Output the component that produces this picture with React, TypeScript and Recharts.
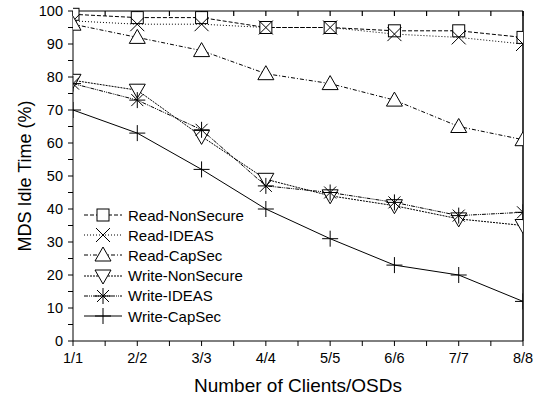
import React from "react";
import { LineChart, Line, XAxis, YAxis, Legend } from "recharts";

// values
const categories = ["1/1", "2/2", "3/3", "4/4", "5/5", "6/6", "7/7", "8/8"];
const readNonSecure = [99, 98, 98, 95, 95, 94, 94, 92];
const readIdeas = [97, 96, 96, 95, 95, 93, 92, 90];
const readCapSec = [96, 92, 88, 81, 78, 73, 65, 61];
const writeNonSecure = [79, 76, 62, 49, 44, 41, 37, 35];
const writeIdeas = [78, 73, 64, 47, 45, 42, 38, 39];
const writeCapSec = [70, 63, 52, 40, 31, 23, 20, 12];
const yLabels = [0, 10, 20, 30, 40, 50, 60, 70, 80, 90, 100];

const FONT = "'Liberation Sans', Arial, sans-serif";

type Shape = "square" | "x" | "up" | "down" | "star" | "plus";

const SERIES: { key: string; name: string; values: number[]; dash?: string; shape: Shape }[] = [
  { key: "rns", name: "Read-NonSecure", values: readNonSecure, dash: "4 2", shape: "square" },
  { key: "rid", name: "Read-IDEAS", values: readIdeas, dash: "1 2", shape: "x" },
  { key: "rcs", name: "Read-CapSec", values: readCapSec, dash: "4 2 1 2", shape: "up" },
  { key: "wns", name: "Write-NonSecure", values: writeNonSecure, dash: "2 1", shape: "down" },
  { key: "wid", name: "Write-IDEAS", values: writeIdeas, dash: "4 1 1 1 1 1", shape: "star" },
  { key: "wcs", name: "Write-CapSec", values: writeCapSec, shape: "plus" },
];

const data = categories.map((c, i) => {
  const row: Record<string, number | string> = { x: i + 1, label: c };
  SERIES.forEach((s) => (row[s.key] = s.values[i]));
  return row;
});

const xTicks = Array.from({ length: 15 }, (_, i) => 1 + i * 0.5);
const yTicks = Array.from({ length: 21 }, (_, i) => i * 5);

function Marker({ shape, cx, cy }: { shape: Shape; cx: number; cy: number }) {
  const p = { stroke: "#000", strokeWidth: 1, fill: "none" };
  switch (shape) {
    case "square":
      return <rect x={cx - 6} y={cy - 6} width={12} height={12} {...p} fill="#fff" />;
    case "x":
      return (
        <path d={`M${cx - 7},${cy - 7}L${cx + 7},${cy + 7}M${cx - 7},${cy + 7}L${cx + 7},${cy - 7}`} {...p} />
      );
    case "up":
      return <polygon points={`${cx},${cy - 8} ${cx - 8},${cy + 6} ${cx + 8},${cy + 6}`} {...p} fill="#fff" />;
    case "down":
      return <polygon points={`${cx},${cy + 8} ${cx - 8},${cy - 6} ${cx + 8},${cy - 6}`} {...p} fill="#fff" />;
    case "star":
      return (
        <path
          d={`M${cx},${cy - 8}L${cx},${cy + 8}M${cx - 8},${cy}L${cx + 8},${cy}M${cx - 6},${cy - 6}L${cx + 6},${cy + 6}M${cx - 6},${cy + 6}L${cx + 6},${cy - 6}`}
          {...p}
        />
      );
    default:
      return <path d={`M${cx},${cy - 8}L${cx},${cy + 8}M${cx - 8},${cy}L${cx + 8},${cy}`} {...p} />;
  }
}

const makeDot = (shape: Shape) => (props: any) =>
  <Marker key={`${shape}-${props.index}`} shape={shape} cx={props.cx} cy={props.cy} />;

const blank = () => "";

function LegendBox() {
  return (
    <div style={{ fontFamily: FONT, fontSize: 15, color: "#000" }}>
      {SERIES.map((s) => (
        <div key={s.key} style={{ display: "flex", alignItems: "center", height: 20.2 }}>
          <svg width={46} height={20}>
            <line x1={2} x2={40} y1={10} y2={10} stroke="#000" strokeDasharray={s.dash} />
            <Marker shape={s.shape} cx={21} cy={10} />
          </svg>
          <span>{s.name}</span>
        </div>
      ))}
    </div>
  );
}

export default function App() {
  return (
    <div style={{ position: "absolute", left: 0, top: 0, background: "#fff" }}>
      <LineChart width={533} height={401} data={data} margin={{ top: 11, right: 10, bottom: 0, left: 0 }}>
        <XAxis
          dataKey="x"
          type="number"
          domain={[1, 8]}
          ticks={xTicks}
          allowDataOverflow
          interval={0}
          height={60}
          tickSize={5}
          tickMargin={7}
          stroke="#000"
          tick={{ fill: "#000", fontSize: 14.5, fontFamily: FONT }}
          tickFormatter={(v: number) => (Number.isInteger(v) ? categories[v - 1] : "")}
          label={{ value: "Number of Clients/OSDs", position: "center", dy: 14, fill: "#000", fontSize: 19, fontFamily: FONT }}
        />
        <XAxis
          xAxisId="top"
          orientation="top"
          dataKey="x"
          type="number"
          domain={[1, 8]}
          ticks={xTicks}
          interval={0}
          mirror
          tickSize={5}
          tickLine={{ stroke: "#000", strokeWidth: 1.2 }}
          tickFormatter={blank}
          height={30}
          stroke="#000"
        />
        <YAxis
          type="number"
          domain={[0, 100]}
          ticks={yTicks}
          interval={0}
          width={73}
          tickSize={5}
          tickMargin={5}
          stroke="#000"
          tick={{ fill: "#000", fontSize: 14.5, fontFamily: FONT }}
          tickFormatter={(v: number) => (yLabels.includes(v) ? String(v) : "")}
          label={{ value: "MDS Idle Time (%)", angle: -90, position: "center", dx: -12, fill: "#000", fontSize: 18, fontFamily: FONT }}
        />
        <YAxis
          yAxisId="right"
          orientation="right"
          type="number"
          domain={[0, 100]}
          ticks={yTicks}
          interval={0}
          mirror
          tickSize={5}
          tickLine={{ stroke: "#000", strokeWidth: 1.2 }}
          tickFormatter={blank}
          width={30}
          stroke="#000"
          strokeWidth={1.5}
        />
        <Legend content={<LegendBox />} layout="vertical" align="center" verticalAlign="middle" wrapperStyle={{ position: "absolute", left: 82, top: 205, width: "auto" }} />
        {SERIES.map((s) => (
          <Line
            key={s.key}
            dataKey={s.key}
            name={s.name}
            stroke="#000"
            strokeWidth={1}
            strokeDasharray={s.dash}
            dot={makeDot(s.shape)}
            activeDot={false}
            isAnimationActive={false}
            type="linear"
          />
        ))}
      </LineChart>
    </div>
  );
}
